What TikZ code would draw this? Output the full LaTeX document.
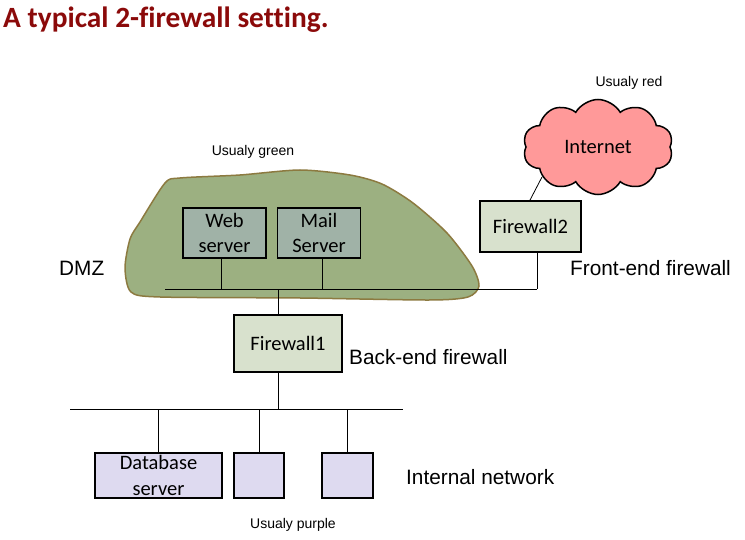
\documentclass[tikz,border=0pt]{standalone}
\usepackage{fontspec}
\setmainfont{Liberation Sans}
\newfontfamily\calfont{Carlito}[Ligatures={NoCommon}]
\usetikzlibrary{shapes.symbols}
\definecolor{titlered}{HTML}{8B0A0A}
\definecolor{blobfill}{HTML}{9CB081}
\definecolor{blobedge}{HTML}{8C7A40}
\definecolor{srvfill}{HTML}{A0B2A7}
\definecolor{fwfill}{HTML}{D8E1CD}
\definecolor{cloudfill}{HTML}{FF9999}
\definecolor{intfill}{HTML}{DEDAF0}
\tikzset{
  box/.style={draw=black, line width=1.8pt, inner sep=0pt, align=center, font=\calfont\fontsize{20.5}{25.5}\selectfont},
  srv/.style={box, fill=srvfill, minimum width=83pt, minimum height=50pt},
  fw/.style={box, fill=fwfill},
  intbox/.style={box, fill=intfill, minimum height=45pt},
  wire/.style={draw=black, line width=0.8pt},
  lbl/.style={font=\fontsize{20.8}{24}\selectfont, inner sep=0pt},
  small/.style={font=\fontsize{14}{16}\selectfont, inner sep=0pt},
}
\begin{document}
\begin{tikzpicture}[x=1pt,y=-1pt]
\useasboundingbox (0,0) rectangle (745,540);
\node[anchor=west, inner sep=0pt, font=\calfont\bfseries\fontsize{29.4}{32}\selectfont, text=titlered] (title) at (3,20) {A typical 2-firewall setting.};

% DMZ blob
\draw[fill=blobfill, draw=blobedge, line width=1.5pt]
  plot[smooth cycle, tension=0.45] coordinates {
   (165,183) (180,178) (240,175) (300,170) (350,175) (382,184) (413,203)
   (447,233) (472,266) (479,286) (468,297) (430,300) (300,298) (160,297)
   (131,292) (125,268) (130,239) (140,222)};

\node[small] (ugreen) at (253,152) {Usualy green};
\node[lbl, anchor=west] (dmz) at (59,268) {DMZ};

\node[srv] (web) at (224.5,233) {Web\\server};
\node[srv] (mail) at (319,233) {Mail\\Server};

\node[fw, minimum width=101pt, minimum height=51pt] (fw2) at (530.5,226.5) {Firewall2};
\node[cloud, cloud puffs=10, cloud puff arc=120, aspect=1.6, draw=black, line width=1.5pt, fill=cloudfill,
      minimum width=150pt, minimum height=95pt, inner sep=0pt, font=\calfont\fontsize{20.5}{24}\selectfont] (inet) at (598,147) {Internet};
\coordinate (inetlink) at (542,177);
\node[small] (ured) at (629,83) {Usualy red};
\node[lbl, anchor=west] (fe) at (570,268) {Front-end firewall};

\node[fw, minimum width=108pt, minimum height=57pt] (fw1) at (288,343.5) {Firewall1};
\node[lbl, anchor=west] (be) at (349,357) {Back-end firewall};

\coordinate (busL) at (165,289);
\coordinate (busR) at (537,289);
\coordinate (lanL) at (70,409);
\coordinate (lanR) at (403,409);

\node[intbox, minimum width=127pt] (db) at (158.5,475.5) {Database\\server};
\node[intbox, minimum width=50pt] (h2) at (259,475.5) {};
\node[intbox, minimum width=51pt] (h3) at (347.5,475.5) {};
\node[lbl, anchor=west] (inl) at (406,477) {Internal network};
\node[small] (upurple) at (293,525) {Usualy purple};

% wires
\draw[wire] (busL) -- (busR);
\draw[wire] ([xshift=-3.5pt]web.south) -- ([xshift=-3.5pt]web.south |- busL);
\draw[wire] ([xshift=3pt]mail.south) -- ([xshift=3pt]mail.south |- busL);
\draw[wire] ([xshift=6.5pt]fw2.south) -- (busR);
\draw[wire] ([xshift=-10pt]fw1.north) -- ([xshift=-10pt]fw1.north |- busL);
\draw[wire] ([xshift=-10pt]fw1.south) -- ([xshift=-10pt]fw1.south |- lanL);
\draw[wire] ([xshift=-0.5pt]fw2.north) -- (inetlink);
\draw[wire] (lanL) -- (lanR);
\draw[wire] (db.north) -- (db.north |- lanL);
\draw[wire] (h2.north) -- (h2.north |- lanL);
\draw[wire] (h3.north) -- (h3.north |- lanL);
\end{tikzpicture}
\end{document}
